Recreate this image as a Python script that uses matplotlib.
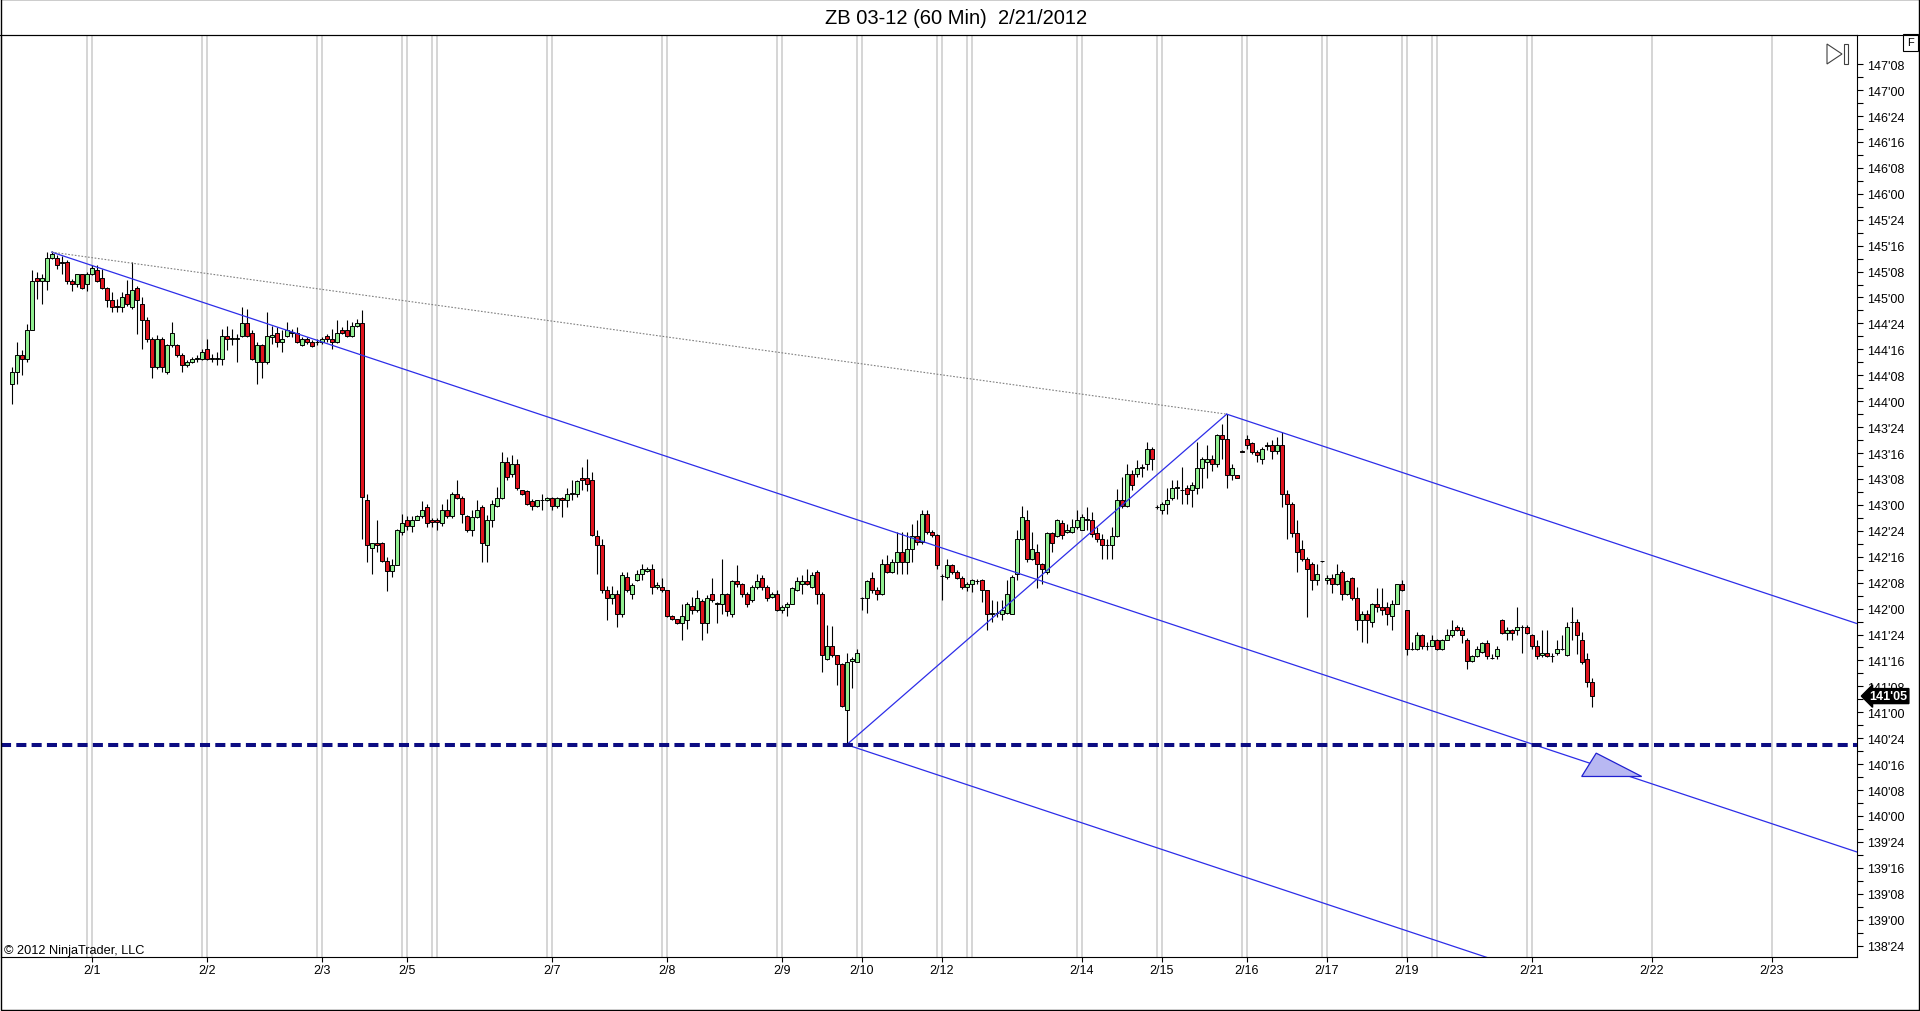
import numpy as np
import matplotlib
matplotlib.use("Agg")
import matplotlib.pyplot as plt
import matplotlib.transforms as mtransforms
from matplotlib.patches import Rectangle, Polygon
from matplotlib.lines import Line2D
from matplotlib.ticker import FuncFormatter

plt.rcParams['font.family'] = ['Liberation Sans', 'DejaVu Sans']

# hourly bars, ZB 03-12 (price in points)
opens = [
    144.169, 144.281, 144.448, 144.410, 144.689, 145.191, 145.158, 145.158, 145.383, 145.383,
    145.342, 145.342, 145.158, 145.133, 145.223, 145.133, 145.223, 145.261, 145.191, 145.094,
    144.978, 144.914, 144.908, 145.036, 144.908, 145.094, 144.940, 144.786, 144.602, 144.329,
    144.602, 144.281, 144.538, 144.538, 144.448, 144.352, 144.377, 144.410, 144.410, 144.506,
    144.410, 144.410, 144.410, 144.628, 144.602, 144.602, 144.628, 144.757, 144.660, 144.377,
    144.538, 144.377, 144.618, 144.660, 144.570, 144.628, 144.660, 144.660, 144.538, 144.602,
    144.570, 144.570, 144.570, 144.628, 144.602, 144.570, 144.689, 144.689, 144.628, 144.721,
    144.753, 143.043, 142.583, 142.632, 142.632, 142.455, 142.358, 142.423, 142.738, 142.857,
    142.792, 142.857, 142.889, 142.979, 142.857, 142.857, 142.825, 142.953, 142.889, 143.107,
    143.069, 142.889, 142.760, 142.882, 142.979, 142.609, 142.857, 142.985, 143.069, 143.413,
    143.294, 143.390, 143.140, 143.133, 143.037, 142.985, 143.043, 143.043, 143.066, 142.985,
    143.065, 143.043, 143.107, 143.107, 143.258, 143.258, 143.236, 142.696, 142.609, 142.175,
    142.104, 142.143, 141.950, 142.304, 142.143, 142.272, 142.329, 142.362, 142.384, 142.207,
    142.207, 142.175, 141.924, 141.895, 141.863, 141.892, 142.021, 141.982, 142.072, 141.860,
    142.143, 142.047, 142.047, 142.143, 141.950, 142.265, 142.233, 142.143, 142.079, 142.207,
    142.297, 142.207, 142.111, 142.143, 141.982, 142.014, 142.046, 142.175, 142.233, 142.265,
    142.207, 142.352, 142.143, 141.516, 141.635, 141.548, 141.461, 141.018, 141.494, 141.484,
    142.104, 142.104, 142.297, 142.175, 142.143, 142.426, 142.352, 142.448, 142.545, 142.448,
    142.570, 142.699, 142.641, 142.914, 142.737, 142.705, 142.310, 142.304, 142.416, 142.352,
    142.297, 142.207, 142.233, 142.265, 142.272, 142.175, 141.950, 141.957, 141.950, 141.957,
    141.950, 142.330, 142.673, 142.857, 142.481, 142.545, 142.426, 142.352, 142.728, 142.696,
    142.825, 142.738, 142.738, 142.786, 142.760, 142.857, 142.857, 142.728, 142.673, 142.609,
    142.609, 142.696, 143.043, 142.985, 143.294, 143.294, 143.358, 143.390, 143.541, 142.979,
    142.953, 143.011, 143.069, 143.165, 143.139, 143.165, 143.139, 143.165, 143.358, 143.412,
    143.445, 143.390, 143.670, 143.637, 143.293, 143.284, 143.515, 143.637, 143.596, 143.509,
    143.445, 143.573, 143.573, 143.515, 143.573, 143.107, 143.011, 142.728, 142.577, 142.480,
    142.426, 142.271, 142.455, 142.271, 142.294, 142.233, 142.352, 142.143, 142.297, 142.104,
    141.892, 141.950, 141.869, 142.046, 142.014, 142.014, 141.924, 142.046, 142.233, 141.982,
    141.612, 141.612, 141.741, 141.635, 141.644, 141.699, 141.612, 141.699, 141.741, 141.821,
    141.796, 141.699, 141.490, 141.542, 141.580, 141.667, 141.522, 141.542, 141.892, 141.767,
    141.796, 141.796, 141.821, 141.821, 141.741, 141.635, 141.548, 141.571, 141.542, 141.571,
    141.612, 141.548, 141.869, 141.869, 141.699, 141.516, 141.291,
]
highs = [
    144.329, 144.570, 144.490, 144.747, 145.261, 145.245, 145.229, 145.438, 145.448, 145.406,
    145.396, 145.358, 145.181, 145.229, 145.229, 145.245, 145.310, 145.310, 145.277, 145.100,
    145.052, 144.988, 145.052, 145.165, 145.342, 145.107, 145.004, 144.811, 144.618, 144.635,
    144.618, 144.554, 144.763, 144.554, 144.464, 144.393, 144.426, 144.442, 144.506, 144.602,
    144.458, 144.474, 144.699, 144.721, 144.699, 144.651, 144.908, 144.892, 144.683, 144.570,
    144.554, 144.860, 144.721, 144.715, 144.683, 144.763, 144.699, 144.715, 144.618, 144.618,
    144.593, 144.602, 144.618, 144.651, 144.699, 144.786, 144.715, 144.786, 144.763, 144.795,
    144.882, 143.107, 142.632, 142.857, 142.641, 142.497, 142.481, 142.770, 142.915, 142.889,
    142.889, 142.898, 143.037, 143.011, 142.876, 142.876, 143.011, 143.059, 143.123, 143.236,
    143.082, 142.898, 142.947, 143.043, 142.995, 142.898, 143.043, 143.172, 143.509, 143.461,
    143.477, 143.445, 143.146, 143.140, 143.059, 143.050, 143.107, 143.075, 143.075, 143.075,
    143.075, 143.165, 143.236, 143.242, 143.364, 143.445, 143.316, 142.760, 142.673, 142.214,
    142.214, 142.175, 142.352, 142.352, 142.246, 142.368, 142.432, 142.400, 142.432, 142.255,
    142.297, 142.182, 141.934, 141.902, 142.047, 142.063, 142.111, 142.175, 142.095, 142.127,
    142.297, 142.063, 142.480, 142.149, 142.278, 142.423, 142.246, 142.159, 142.223, 142.329,
    142.320, 142.223, 142.159, 142.175, 142.030, 142.062, 142.207, 142.303, 142.320, 142.384,
    142.352, 142.374, 142.159, 141.837, 141.828, 141.548, 141.474, 141.571, 141.532, 141.612,
    142.111, 142.271, 142.352, 142.207, 142.480, 142.512, 142.480, 142.737, 142.737, 142.737,
    142.818, 142.850, 142.953, 142.953, 142.754, 142.721, 142.329, 142.480, 142.432, 142.374,
    142.310, 142.256, 142.288, 142.288, 142.288, 142.182, 142.079, 142.072, 142.079, 142.272,
    142.320, 142.760, 142.985, 142.953, 142.738, 142.625, 142.439, 142.738, 142.738, 142.866,
    142.850, 142.818, 142.866, 142.953, 142.915, 142.979, 142.931, 142.786, 142.722, 142.673,
    142.786, 143.155, 143.268, 143.397, 143.332, 143.435, 143.397, 143.606, 143.557, 142.995,
    143.027, 143.165, 143.236, 143.236, 143.364, 143.187, 143.220, 143.605, 143.461, 143.573,
    143.477, 143.686, 143.782, 143.875, 143.390, 143.290, 143.525, 143.670, 143.605, 143.525,
    143.557, 143.605, 143.621, 143.653, 143.702, 143.139, 143.027, 142.856, 142.657, 142.496,
    142.448, 142.432, 142.460, 142.320, 142.329, 142.426, 142.368, 142.278, 142.304, 142.207,
    141.975, 141.982, 142.053, 142.200, 142.200, 142.062, 142.078, 142.239, 142.271, 141.988,
    141.677, 141.773, 141.751, 141.677, 141.741, 141.709, 141.709, 141.805, 141.892, 141.837,
    141.821, 141.718, 141.548, 141.644, 141.677, 141.699, 141.564, 141.644, 141.902, 141.821,
    141.805, 142.020, 141.837, 141.837, 141.751, 141.693, 141.789, 141.796, 141.571, 141.699,
    141.741, 141.869, 142.020, 141.902, 141.773, 141.571, 141.333,
]
lows = [
    143.976, 144.169, 144.249, 144.377, 144.683, 144.988, 144.940, 145.068, 145.374, 145.277,
    145.229, 145.133, 145.059, 145.100, 145.085, 145.059, 145.213, 145.149, 145.085, 144.908,
    144.860, 144.860, 144.860, 144.914, 144.892, 144.651, 144.506, 144.570, 144.226, 144.313,
    144.281, 144.265, 144.522, 144.426, 144.281, 144.329, 144.368, 144.377, 144.393, 144.400,
    144.377, 144.345, 144.345, 144.490, 144.538, 144.377, 144.618, 144.618, 144.393, 144.169,
    144.226, 144.361, 144.554, 144.522, 144.474, 144.618, 144.618, 144.561, 144.529, 144.548,
    144.522, 144.538, 144.554, 144.570, 144.506, 144.561, 144.651, 144.618, 144.618, 144.715,
    142.673, 142.448, 142.330, 142.545, 142.448, 142.169, 142.304, 142.416, 142.706, 142.754,
    142.738, 142.850, 142.876, 142.786, 142.786, 142.760, 142.792, 142.876, 142.876, 143.059,
    142.825, 142.738, 142.696, 142.876, 142.448, 142.448, 142.786, 142.979, 143.059, 143.236,
    143.268, 143.146, 143.091, 142.995, 142.947, 142.979, 142.953, 143.037, 142.953, 142.972,
    142.882, 142.979, 143.043, 143.075, 143.139, 143.133, 142.696, 142.329, 142.149, 141.892,
    142.047, 141.822, 141.918, 142.159, 142.095, 142.265, 142.272, 142.352, 142.137, 142.191,
    142.159, 141.918, 141.886, 141.854, 141.700, 141.799, 141.950, 141.966, 141.700, 141.764,
    142.063, 141.860, 141.950, 141.924, 141.918, 142.207, 142.111, 142.014, 142.063, 142.191,
    142.175, 142.072, 142.104, 141.976, 141.956, 141.924, 142.040, 142.168, 142.143, 142.223,
    142.201, 142.046, 141.387, 141.506, 141.532, 141.259, 141.050, 140.6875, 141.236, 141.484,
    141.982, 141.962, 142.149, 142.078, 142.127, 142.342, 142.342, 142.336, 142.336, 142.336,
    142.448, 142.609, 142.625, 142.721, 142.689, 142.384, 142.079, 142.287, 142.336, 142.287,
    142.191, 142.169, 142.159, 142.240, 142.063, 141.790, 141.870, 141.918, 141.892, 141.950,
    141.944, 142.272, 142.657, 142.448, 142.465, 142.201, 142.240, 142.336, 142.545, 142.689,
    142.673, 142.728, 142.728, 142.770, 142.754, 142.754, 142.689, 142.641, 142.481, 142.481,
    142.481, 142.689, 142.972, 142.979, 143.140, 143.268, 143.268, 143.339, 143.332, 142.963,
    142.914, 142.914, 143.049, 143.059, 143.011, 143.011, 142.979, 143.101, 143.165, 143.261,
    143.326, 143.364, 143.445, 143.165, 143.236, 143.255, 143.506, 143.541, 143.493, 143.412,
    143.390, 143.525, 143.445, 143.493, 142.979, 142.673, 142.689, 142.352, 142.458, 141.918,
    142.175, 142.223, 142.450, 142.239, 142.149, 142.223, 142.079, 142.127, 142.079, 141.789,
    141.677, 141.667, 141.821, 141.966, 141.934, 141.837, 141.796, 142.040, 142.168, 141.548,
    141.603, 141.603, 141.612, 141.603, 141.635, 141.603, 141.603, 141.693, 141.725, 141.783,
    141.667, 141.420, 141.484, 141.532, 141.571, 141.516, 141.516, 141.516, 141.757, 141.693,
    141.693, 141.741, 141.571, 141.757, 141.612, 141.516, 141.532, 141.532, 141.484, 141.548,
    141.603, 141.538, 141.699, 141.564, 141.468, 141.243, 141.050,
]
closes = [
    144.281, 144.448, 144.410, 144.689, 145.158, 145.158, 145.191, 145.383, 145.416, 145.316,
    145.334, 145.158, 145.133, 145.223, 145.094, 145.223, 145.287, 145.158, 145.094, 144.978,
    144.908, 144.908, 145.004, 144.940, 145.068, 144.972, 144.786, 144.602, 144.329, 144.602,
    144.329, 144.538, 144.660, 144.448, 144.352, 144.377, 144.410, 144.413, 144.474, 144.410,
    144.413, 144.413, 144.628, 144.602, 144.605, 144.605, 144.757, 144.628, 144.410, 144.538,
    144.377, 144.628, 144.641, 144.570, 144.602, 144.689, 144.663, 144.570, 144.602, 144.570,
    144.532, 144.573, 144.602, 144.602, 144.570, 144.660, 144.660, 144.628, 144.721, 144.753,
    143.075, 142.609, 142.632, 142.609, 142.455, 142.358, 142.423, 142.760, 142.825, 142.792,
    142.857, 142.889, 142.953, 142.825, 142.831, 142.831, 142.953, 142.889, 143.107, 143.069,
    142.915, 142.760, 142.882, 142.953, 142.632, 142.857, 143.011, 143.069, 143.413, 143.268,
    143.390, 143.165, 143.107, 143.011, 142.985, 143.043, 143.046, 143.069, 142.985, 143.066,
    143.043, 143.107, 143.114, 143.229, 143.236, 143.197, 142.705, 142.609, 142.175, 142.104,
    142.143, 141.950, 142.320, 142.175, 142.230, 142.329, 142.384, 142.384, 142.207, 142.230,
    142.175, 141.924, 141.895, 141.863, 141.924, 142.047, 141.982, 142.104, 141.860, 142.104,
    142.079, 142.050, 142.143, 141.976, 142.265, 142.233, 142.143, 142.047, 142.207, 142.265,
    142.207, 142.104, 142.143, 141.982, 142.014, 142.046, 142.201, 142.265, 142.265, 142.233,
    142.326, 142.143, 141.548, 141.635, 141.548, 141.461, 141.056, 141.484, 141.516, 141.571,
    142.101, 142.265, 142.175, 142.143, 142.426, 142.352, 142.448, 142.545, 142.448, 142.570,
    142.699, 142.641, 142.914, 142.737, 142.705, 142.416, 142.313, 142.416, 142.352, 142.297,
    142.207, 142.233, 142.272, 142.268, 142.175, 141.950, 141.953, 141.957, 141.982, 142.143,
    142.304, 142.673, 142.882, 142.481, 142.577, 142.426, 142.384, 142.728, 142.632, 142.850,
    142.706, 142.760, 142.786, 142.857, 142.882, 142.860, 142.715, 142.673, 142.609, 142.612,
    142.696, 143.043, 142.985, 143.294, 143.188, 143.358, 143.361, 143.541, 143.445, 142.982,
    143.011, 143.043, 143.165, 143.168, 143.142, 143.107, 143.187, 143.358, 143.445, 143.445,
    143.390, 143.670, 143.637, 143.293, 143.358, 143.261, 143.512, 143.573, 143.509, 143.477,
    143.541, 143.570, 143.515, 143.573, 143.107, 143.011, 142.728, 142.545, 142.480, 142.384,
    142.271, 142.329, 142.455, 142.294, 142.233, 142.329, 142.143, 142.265, 142.104, 141.886,
    141.950, 141.892, 142.046, 142.020, 141.982, 141.950, 142.046, 142.233, 142.175, 141.612,
    141.615, 141.741, 141.635, 141.638, 141.699, 141.612, 141.699, 141.741, 141.796, 141.796,
    141.741, 141.490, 141.542, 141.612, 141.667, 141.542, 141.525, 141.612, 141.767, 141.796,
    141.767, 141.821, 141.824, 141.767, 141.635, 141.542, 141.571, 141.542, 141.545, 141.612,
    141.615, 141.821, 141.872, 141.741, 141.484, 141.291, 141.156,
]

# session break lines (pairs at bar n, n+1) and single lines on future days
session_breaks = [15, 38, 61, 78, 84, 107, 130, 153, 169, 185, 191, 213, 229, 246, 262, 278, 284, 303]
future_lines = [328, 352]
date_pos = [16, 39, 62, 79, 108, 131, 154, 170, 186, 214, 230, 247, 263, 279, 304, 328, 352]
date_labels = ['2/1', '2/2', '2/3', '2/5', '2/7', '2/8', '2/9', '2/10', '2/12',
               '2/14', '2/15', '2/16', '2/17', '2/19', '2/21', '2/22', '2/23']

# pitchfork anchors A, B, C (bar, price)
pf_bar = [8, 167, 243]
pf_price = [145.4375, 140.6875, 143.875]
hline_price = 140.6875
last_price = 141.15625
# triangle marker (bar, price)
tri_bar = [316.9, 314.0, 326.0]
tri_price = [140.606, 140.381, 140.381]

W, H = 1920, 1012
fig = plt.figure(figsize=(W / 100, H / 100), dpi=100)
ax = fig.add_axes([1 / W, (H - 957.5) / H, 1856 / W, 922 / H])
xmin, xmax = -2.14, 369.06
ax.set_xlim(xmin, xmax)
ax.set_ylim(138.645, 147.536)

# grid lines
for b in session_breaks:
    ax.axvline(b, color='#cacaca', lw=1.1, zorder=1)
    ax.axvline(b + 1, color='#cacaca', lw=1.1, zorder=1)
for b in future_lines:
    ax.axvline(b, color='#cacaca', lw=1.1, zorder=1)

# candles
o = np.array(opens); h = np.array(highs); l = np.array(lows); c = np.array(closes)
idx = np.arange(len(o))
cols = np.where(c >= o, '#90ee90', '#e0141e')
ax.vlines(idx, l, h, color='black', lw=0.8, zorder=3)
ax.bar(idx, np.abs(c - o), bottom=np.minimum(o, c), width=0.78, color=cols,
       edgecolor='black', linewidth=0.7, zorder=4)

# pitchfork
a_i, b_i, c_i = pf_bar
a_p, b_p, c_p = pf_price
mid_i = (b_i + c_i) / 2
mid_p = (b_p + c_p) / 2
slope = (mid_p - a_p) / (mid_i - a_i)
blue = '#2d2de8'
for si, sp in [(a_i, a_p), (b_i, b_p), (c_i, c_p)]:
    ax.plot([si, xmax], [sp, sp + slope * (xmax - si)], color=blue, lw=0.9, zorder=5)
ax.plot([b_i, c_i], [b_p, c_p], color=blue, lw=0.9, zorder=5)
ax.plot([a_i, c_i], [a_p, c_p], color='#808080', lw=0.8, ls=(0, (1.5, 1.5)), zorder=5)

ax.axhline(hline_price, color='#0c0c82', lw=2.9, dashes=(2.5, 1.3), zorder=6)

ax.add_patch(Polygon(list(zip(tri_bar, tri_price)), closed=True, fc='#b8b8f2',
                     ec='#2020d0', lw=0.9, zorder=7))

# axes styling
for s in ax.spines.values():
    s.set_color('black')
    s.set_linewidth(0.8)
ax.yaxis.tick_right()
maj = np.arange(138.75, 147.26, 0.25)
ax.set_yticks(maj)
ax.set_yticks(maj[:-1] + 0.125, minor=True)

def fmt(p, pos):
    whole = int(np.floor(p + 1e-9))
    frac = int(round((p - whole) * 32))
    return f"{whole}'{frac:02d}"

ax.yaxis.set_major_formatter(FuncFormatter(fmt))
ax.tick_params(axis='y', which='both', direction='out', length=4.5, width=0.8,
               pad=2.5, labelsize=9, right=True, left=False)
ax.set_xticks(date_pos)
ax.set_xticklabels(date_labels)
ax.tick_params(axis='x', direction='out', length=3.6, width=0.8, pad=2, labelsize=9)

# last price marker
trans = mtransforms.blended_transform_factory(ax.transAxes, ax.transData)
ax.text(1.0066, last_price, "141'05", transform=trans, color='white', fontsize=9,
        fontweight='bold', ha='left', va='center', clip_on=False, zorder=10,
        bbox=dict(boxstyle='larrow,pad=0.12', fc='black', ec='black'))

ax.text(0.0016, 0.004, '\u00a9 2012 NinjaTrader, LLC', transform=ax.transAxes,
        fontsize=9.2, ha='left', va='baseline')

fig.text(956 / W, 1 - 18 / H, 'ZB 03-12 (60 Min)  2/21/2012', ha='center',
         va='center', fontsize=14.5)

# frame, top line, F box, scroll icon
fig.add_artist(Rectangle((0.0004, 0.0008), 0.9992, 0.9988, transform=fig.transFigure,
                         fill=False, ec='black', lw=1))
fig.add_artist(Line2D([0, 1], [1 - 35.5 / H, 1 - 35.5 / H], transform=fig.transFigure,
                      color='black', lw=0.8))
fig.add_artist(Rectangle((1903 / W, 1 - 52 / H), 15 / W, 17 / H, transform=fig.transFigure,
                         fill=False, ec='black', lw=0.8))
fig.text(1910.5 / W, 1 - 43.5 / H, 'F', ha='center', va='center', fontsize=8)
fig.add_artist(Polygon([(1827 / W, 1 - 45 / H), (1827 / W, 1 - 65 / H), (1842 / W, 1 - 55 / H)],
                       closed=True, transform=fig.transFigure, fill=False, ec='#404040', lw=0.8))
fig.add_artist(Rectangle((1844 / W, 1 - 65 / H), 4 / W, 20 / H, transform=fig.transFigure,
                         fill=False, ec='#404040', lw=0.8))

fig.savefig('out.png', dpi=100)
